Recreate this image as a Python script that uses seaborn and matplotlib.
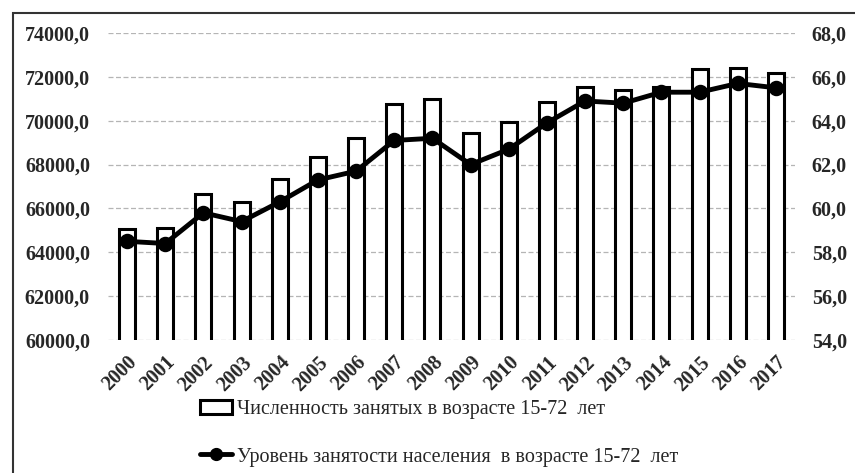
import matplotlib
matplotlib.use("Agg")
import matplotlib.pyplot as plt
import seaborn as sns
import pandas as pd
from matplotlib.patches import Rectangle
from matplotlib.lines import Line2D
from matplotlib.ticker import FuncFormatter

years = [str(y) for y in range(2000, 2018)]
employed = [65050, 65130, 66660, 66310, 67330, 68360, 69200, 70760, 70990,
            69420, 69920, 70850, 71540, 71400, 71550, 72340, 72390, 72180]
rate = [58.5, 58.4, 59.8, 59.4, 60.3, 61.3, 61.7, 63.1, 63.2,
        62.0, 62.7, 63.9, 64.9, 64.8, 65.3, 65.3, 65.7, 65.5]
label_bars = "Численность занятых в возрасте 15-72  лет"
label_line = "Уровень занятости населения  в возрасте 15-72  лет"

sns.set_style("white")
plt.rcParams['font.family'] = ['Liberation Serif', 'DejaVu Serif']

df = pd.DataFrame({'year': years, 'employed': employed, 'rate': rate})

fig = plt.figure(figsize=(8.55, 4.73), dpi=100)
ax = fig.add_axes([108/855, 1-340/473, (795-108)/855, (340-33)/473])

sns.barplot(data=df, x='year', y='employed', ax=ax, color='white',
            edgecolor='black', linewidth=2.2, width=0.42, saturation=1)
ax.set_ylim(60000, 74000)
ax.set_yticks(range(60000, 74001, 2000))
ax.yaxis.set_major_formatter(FuncFormatter(lambda v, p: f"{v:.1f}".replace('.', ',')))
ax.grid(axis='y', color='#b5b5b5', linestyle=(0, (4, 2)), linewidth=0.9)
ax.set_axisbelow(True)

ax2 = ax.twinx()
sns.pointplot(data=df, x='year', y='rate', ax=ax2, color='black',
              markers='o', markersize=8.5, linewidth=3.5)
ax2.set_ylim(54, 68)
ax2.set_yticks(range(54, 69, 2))
ax2.yaxis.set_major_formatter(FuncFormatter(lambda v, p: f"{v:.1f}".replace('.', ',')))
ax2.grid(False)

for a in (ax, ax2):
    a.set_xlim(-0.5, len(years) - 0.5)
    a.set_xlabel('')
    a.set_ylabel('')
    for s in a.spines.values():
        s.set_visible(False)
    a.tick_params(length=0)

ax.tick_params(axis='y', pad=13, labelsize=14.5)
ax2.tick_params(axis='y', pad=12, labelsize=14.5)
for t in ax.get_yticklabels() + ax2.get_yticklabels():
    t.set_fontweight('bold')
ax.tick_params(axis='x', pad=9, labelsize=14.5)
for t in ax.get_xticklabels():
    t.set_rotation(45)
    t.set_ha('right')
    t.set_rotation_mode('anchor')
    t.set_fontweight('bold')

handles = [Rectangle((0, 0), 1, 1, facecolor='white', edgecolor='black', linewidth=2.2),
           Line2D([], [], color='black', linewidth=3.5, marker='o', markersize=8.5)]
fig.legend(handles, [label_bars, label_line], loc='upper left',
           bbox_to_anchor=(182/855, 1-382/473), frameon=False,
           fontsize=14.5, handlelength=1.6, handletextpad=0.25, labelspacing=1.4)

fig.add_artist(Rectangle((13/855, -0.1), 1.2, 1.1 - 13/473, transform=fig.transFigure,
                         fill=False, edgecolor='#333333', linewidth=1.5))

fig.savefig('out.png', dpi=100)
